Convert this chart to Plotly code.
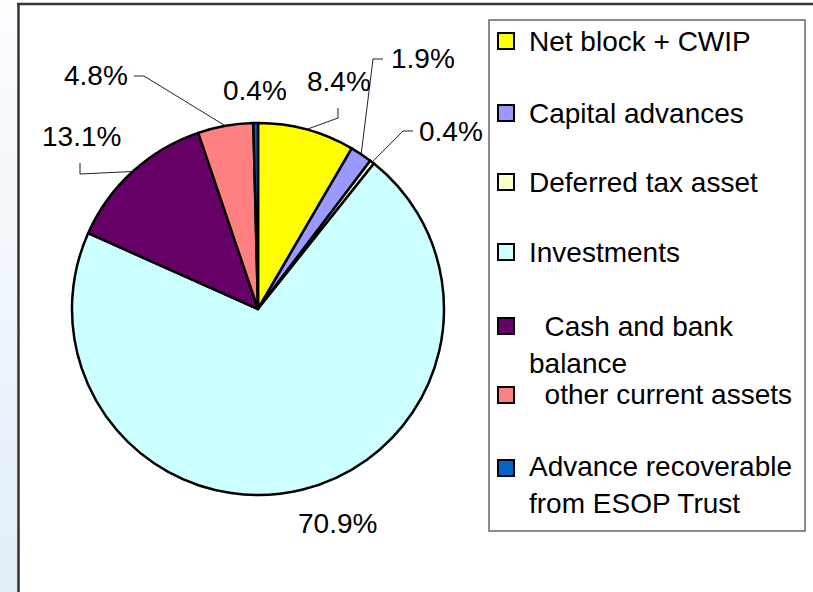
import math
import plotly.graph_objects as go

# ---------------- data ----------------
categories = ["Net block + CWIP", "Capital advances", "Deferred tax asset", "Investments",
              "Cash and bank balance", "other current assets", "Advance recoverable from ESOP Trust"]
values = [8.4, 1.9, 0.4, 70.9, 13.1, 4.8, 0.4]
value_labels = ["8.4%", "1.9%", "0.4%", "70.9%", "13.1%", "4.8%", "0.4%"]
legend_lines = [["Net block + CWIP"], ["Capital advances"], ["Deferred tax asset"], ["Investments"],
                ["\u00a0\u00a0Cash and bank", "balance"], ["\u00a0\u00a0other current assets"],
                ["Advance recoverable", "from ESOP Trust"]]
colors = ["#FFFF00", "#9999FF", "#FFFFCC", "#CCFFFF", "#660066", "#FF8080", "#0066CC"]

# ---------------- layout (pixel geometry) ----------------
W, H = 813, 592
FONT = "Liberation Sans, Arial, sans-serif"
pie_left, pie_right, pie_top, pie_bottom = 72, 444, 123, 495
cx, cy = (pie_left + pie_right) / 2, (pie_top + pie_bottom) / 2
R = (pie_right - pie_left) / 2

# label centre positions and leader elbows (None = no leader line)
label_pos = [(339, 81), (423, 58), (451, 131), (337, 523), (81, 136), (96, 75), (255, 90)]
leader_pts = [[(338, 108), (338, 118)], [(383, 59), (373, 59)], [(413, 131), (403, 131)], None,
              [(80, 163), (80, 174)], [(134, 76), (144, 76)], None]

legend_swatch_y = [41, 113, 182, 252, 326, 395, 468]
legend_line_y = [[41], [113], [182], [252], [326, 363], [394], [466, 503]]

fig = go.Figure()
fig.add_trace(go.Pie(
    labels=categories, values=values, sort=False, direction="clockwise", rotation=0,
    marker=dict(colors=colors, line=dict(color="black", width=2.5)),
    textinfo="none", hoverinfo="label+percent", showlegend=False,
    domain=dict(x=[pie_left / W, pie_right / W], y=[1 - pie_bottom / H, 1 - pie_top / H]),
))

shapes = []
annotations = []

# left gradient strip
n = 40
for i in range(n):
    t = i / (n - 1)
    r = round(252 + (226 - 252) * t)
    g = round(253 + (238 - 253) * t)
    b = round(255 + (248 - 255) * t)
    shapes.append(dict(type="rect", xref="x", yref="y", x0=0, x1=18, y0=i * H / n, y1=(i + 1) * H / n + 1,
                       fillcolor=f"rgb({r},{g},{b})", line=dict(width=0), layer="below"))
# frame
shapes.append(dict(type="line", xref="x", yref="y", x0=18.5, x1=18.5, y0=3, y1=H, line=dict(color="#333", width=2.5)))
shapes.append(dict(type="line", xref="x", yref="y", x0=17, x1=W, y0=4, y1=4, line=dict(color="#333", width=2.5)))

# data labels + leader lines
total = sum(values)
cum = 0
for i, v in enumerate(values):
    mid = (cum + v / 2) / total * 2 * math.pi
    cum += v
    ex, ey = cx + R * math.sin(mid), cy - R * math.cos(mid)
    lx, ly = label_pos[i]
    annotations.append(dict(x=lx, y=ly, xref="x", yref="y", text=value_labels[i], showarrow=False,
                            xanchor="center", yanchor="middle", font=dict(family=FONT, size=28, color="black")))
    if leader_pts[i]:
        pts = leader_pts[i] + [(ex, ey)]
        path = "M " + " L ".join(f"{px},{py}" for px, py in pts)
        shapes.append(dict(type="path", xref="x", yref="y", path=path, line=dict(color="#222", width=1)))

# legend
shapes.append(dict(type="rect", xref="x", yref="y", x0=489, x1=805, y0=20, y1=531,
                   line=dict(color="#666", width=1.5), fillcolor="rgba(0,0,0,0)"))
for i, c in enumerate(colors):
    sy = legend_swatch_y[i]
    shapes.append(dict(type="rect", xref="x", yref="y", x0=498, x1=514, y0=sy - 8, y1=sy + 8,
                       fillcolor=c, line=dict(color="black", width=2)))
    for j, line in enumerate(legend_lines[i]):
        annotations.append(dict(x=527, y=legend_line_y[i][j], xref="x", yref="y", text=line, showarrow=False,
                                xanchor="left", yanchor="middle", font=dict(family=FONT, size=28, color="black")))

fig.update_layout(
    width=W, height=H, margin=dict(l=0, r=0, t=0, b=0),
    paper_bgcolor="white", plot_bgcolor="rgba(0,0,0,0)",
    xaxis=dict(range=[0, W], visible=False, fixedrange=True),
    yaxis=dict(range=[H, 0], visible=False, fixedrange=True),
    shapes=shapes, annotations=annotations, showlegend=False,
)
fig.write_html("out.html", config={"displayModeBar": False},
               post_script="document.body.style.margin='0px';document.body.style.overflow='hidden';")
